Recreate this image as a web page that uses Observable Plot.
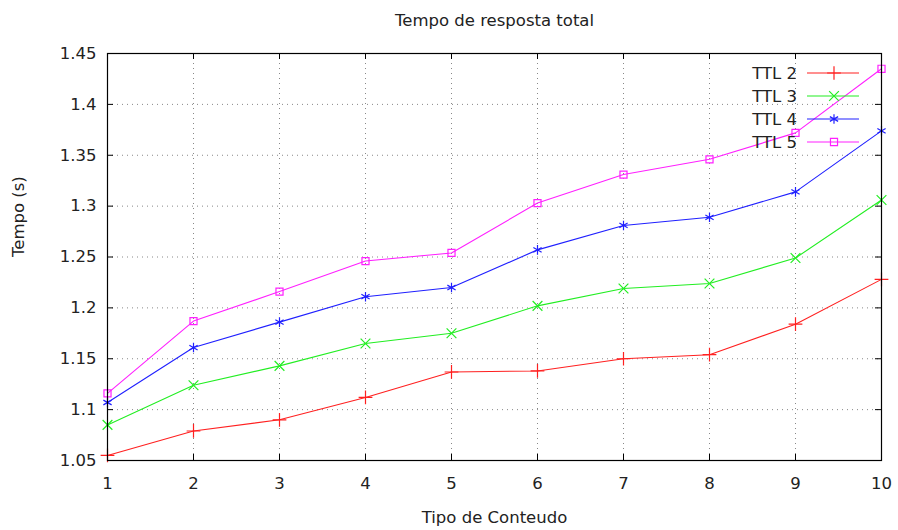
<!DOCTYPE html>
<html><head><meta charset="utf-8">
<script src="https://cdn.jsdelivr.net/npm/d3@7"></script>
<script src="https://cdn.jsdelivr.net/npm/@observablehq/plot@0.6"></script>
<style>
html,body{margin:0;padding:0;background:#fff;}
svg{font-family:"DejaVu Sans",sans-serif;}
</style>
</head><body>
<div id="chart"></div>
<script>
const tipos = [1,2,3,4,5,6,7,8,9,10];
const ttl2 = [1.055,1.079,1.090,1.112,1.137,1.138,1.150,1.154,1.184,1.228];
const ttl3 = [1.085,1.124,1.143,1.165,1.175,1.202,1.219,1.224,1.249,1.306];
const ttl4 = [1.107,1.161,1.186,1.211,1.220,1.257,1.281,1.289,1.314,1.374];
const ttl5 = [1.116,1.187,1.216,1.246,1.254,1.303,1.331,1.346,1.372,1.435];
const seriesNames = ["TTL 2","TTL 3","TTL 4","TTL 5"];
const seriesColors = ["#ff2020","#22ee22","#2020ff","#ff20ff"];
const seriesSymbols = ["plus","times","asterisk","square2"];
const yTicks = [1.05,1.1,1.15,1.2,1.25,1.3,1.35,1.4,1.45];
const yTickLabels = ["1.05","1.1","1.15","1.2","1.25","1.3","1.35","1.4","1.45"];
const xTicks = tipos;

const allSeries = [ttl2, ttl3, ttl4, ttl5];
const data = [];
allSeries.forEach((vals, s) => vals.forEach((v, i) => data.push({tipo: tipos[i], tempo: v, serie: seriesNames[s]})));

const W = 898, H = 530;
const mL = 107, mR = 17, mT = 53, mB = 70;
const pw = W - mL - mR, ph = H - mT - mB;
const tick = 6;
const FS = 16.5;
const FONT = "'DejaVu Sans', sans-serif";

const plot = Plot.plot({
  width: W, height: H,
  marginLeft: mL, marginRight: mR, marginTop: mT, marginBottom: mB,
  style: {fontFamily: FONT, fontSize: FS + "px", color: "#222"},
  x: {domain: [1, 10], ticks: xTicks},
  y: {domain: [1.05, 1.45], ticks: yTicks},
  color: {domain: seriesNames, range: seriesColors},
  symbol: {domain: seriesNames, range: seriesSymbols},
  marks: [
    Plot.gridY(yTicks, {stroke: "#888", strokeOpacity: 1, strokeDasharray: "1,4"}),
    Plot.gridX(xTicks, {stroke: "#888", strokeOpacity: 1, strokeDasharray: "1,4"}),
    Plot.tickY(yTicks, {y: d => d, stroke: "#000", insetRight: pw - tick}),
    Plot.tickY(yTicks, {y: d => d, stroke: "#000", insetLeft: pw - tick}),
    Plot.tickX(xTicks, {x: d => d, stroke: "#000", insetTop: ph - tick}),
    Plot.tickX(xTicks, {x: d => d, stroke: "#000", insetBottom: ph - tick}),
    Plot.axisY(yTicks, {tickSize: 0, tickPadding: 11, tickFormat: (d, i) => yTickLabels[i], fontSize: FS, fill: "#222", label: null}),
    Plot.axisX(xTicks, {tickSize: 0, tickPadding: 17, fontSize: FS, fill: "#222", label: null}),
    Plot.line(data, {x: "tipo", y: "tempo", z: "serie", stroke: "serie", strokeWidth: 1.1}),
    Plot.dot(data, {x: "tipo", y: "tempo", stroke: "serie", symbol: "serie", r: 4.5, strokeWidth: 1.2}),
    Plot.frame({stroke: "#000", strokeWidth: 1.2}),
    Plot.text(["Tempo de resposta total"], {frameAnchor: "top", dy: -39, fontSize: FS, fill: "#222"}),
    Plot.text(["Tipo de Conteudo"], {frameAnchor: "bottom", dy: 62, fontSize: FS, fill: "#222"}),
    Plot.text(["Tempo (s)"], {frameAnchor: "left", dx: -89, rotate: -90, fontSize: FS, fill: "#222"})
  ]
});

// legend (gnuplot-style key, inside top-right)
const symbolTypes = {plus: d3.symbolPlus, times: d3.symbolTimes, asterisk: d3.symbolAsterisk, square2: d3.symbolSquare2};
const svg = d3.select(plot);
const key = svg.append("g");
const xr = mL + pw; // right edge of frame
seriesNames.forEach((name, i) => {
  const yy = mT + 20 + i * 23;
  key.append("text").attr("x", xr - 84).attr("y", yy).attr("dy", "0.35em")
    .attr("text-anchor", "end").attr("font-size", FS).attr("font-family", FONT).attr("fill", "#222").text(name);
  key.append("line").attr("x1", xr - 74).attr("x2", xr - 22).attr("y1", yy).attr("y2", yy)
    .attr("stroke", seriesColors[i]).attr("stroke-width", 1.1);
  const sym = d3.symbol(symbolTypes[seriesSymbols[i]], 4.5 * 4.5 * Math.PI);
  key.append("path").attr("d", sym()).attr("transform", `translate(${xr - 47},${yy})`)
    .attr("fill", "none").attr("stroke", seriesColors[i]).attr("stroke-width", 1.2);
});

document.getElementById("chart").appendChild(plot);
</script>
</body></html>
